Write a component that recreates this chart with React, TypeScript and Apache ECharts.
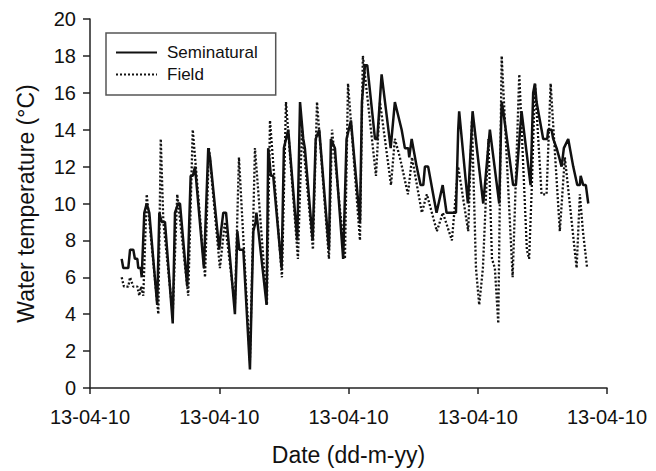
import React, { useEffect, useRef } from "react";
import * as echarts from "echarts";

// x in days from the first axis tick, y in °C
const xTickLabels = ["13-04-10", "13-04-10", "13-04-10", "13-04-10", "13-04-10"];

const seminaturalDays = [
  1.96, 2.06, 2.37, 2.48, 2.68, 2.78, 2.93, 2.99, 3.14, 3.2, 3.36, 3.51, 3.67, 4.16, 4.29, 4.44, 4.64,
  5.12, 5.26, 5.46, 5.57, 6.02, 6.23, 6.37, 6.5, 7.05, 7.32, 7.43, 8.0, 8.11, 8.25, 8.42, 8.97, 9.12,
  9.24, 9.49, 9.9, 10.11, 10.25, 10.3, 10.93, 11.03, 11.2, 11.34, 11.86, 12.0, 12.27, 12.83, 13.0,
  13.2, 13.3, 13.78, 13.97, 14.19, 14.79, 14.91, 15.16, 15.67, 15.88, 16.15, 16.71, 16.83, 17.02,
  17.16, 17.64, 17.78, 18.05, 18.61, 18.87, 19.29, 19.49, 19.7, 19.76, 19.91, 20.22, 20.46, 20.63,
  20.73, 20.93, 21.24, 21.45, 21.83, 22.07, 22.65, 22.79, 22.85, 23.39, 23.68, 24.34, 24.75, 25.33,
  25.48, 25.58, 26.19, 26.36, 26.71, 27.27, 27.43, 27.54, 27.64, 27.95, 28.05, 28.3, 28.36, 28.57,
  28.67, 28.88, 29.04, 29.19, 29.33, 29.6, 29.91, 30.16, 30.32, 30.37, 30.53, 30.69, 30.84,
];
const seminaturalTemp = [
  7, 6.5, 6.5, 7.5, 7.5, 7, 7, 6.5, 6.5, 6, 9.5, 10, 9.5, 4.5, 9.5, 9, 9,
  3.5, 9.5, 10, 10, 5.5, 11.5, 11.5, 12, 6.5, 13, 12.5, 7.5, 8.5, 9.5, 9.5, 4, 8.5,
  7.5, 7.5, 1, 8.5, 9, 9.5, 4.5, 13, 11.5, 11.5, 6.5, 13, 14, 8, 15.5,
  13.5, 13, 8, 13.5, 14, 7.5, 13.5, 13, 7, 13.5, 14.5, 9, 15.5, 17.5,
  17.5, 13.5, 13.5, 17, 13, 15.5, 14, 13, 13, 12.5, 13.5, 12, 11, 11,
  12, 12, 10.5, 9.5, 11, 9.5, 9.5, 14, 15, 10, 15, 10, 14, 10,
  15.5, 15, 11, 11, 15, 11, 16, 16.5, 15.5, 14, 13.5, 13.5, 14, 14,
  13.5, 13, 12.5, 12, 13, 13.5, 12, 11, 11, 11.5, 11, 11, 10,
];

const fieldDays = [
  1.96, 2.1, 2.37, 2.48, 2.68, 2.93, 3.05, 3.16, 3.3, 3.51, 4.23, 4.38, 4.54, 5.12, 5.4, 6.08, 6.36,
  7.12, 7.36, 8.04, 8.35, 8.97, 9.22, 9.9, 10.21, 10.95, 11.14, 11.88, 12.13, 12.87, 13.12, 13.8,
  14.05, 14.79, 14.98, 15.78, 15.97, 16.71, 16.89, 17.7, 17.95, 18.63, 18.87, 19.18, 19.68, 19.93,
  20.54, 20.85, 21.47, 21.84, 22.4, 22.79, 23.41, 23.64, 23.89, 24.09, 24.32, 24.66, 24.88, 25.06,
  25.27, 25.48, 26.16, 26.57, 27.04, 27.18, 27.35, 27.54, 27.95, 28.26, 28.51, 29.08, 29.39, 30.12,
  30.32, 30.51, 30.77,
];
const fieldTemp = [
  6, 5.5, 5.5, 6, 5.5, 5.5, 5, 5.5, 5, 10.5, 4, 13.5, 9, 4, 10.5, 5, 14,
  6, 13, 6.5, 9, 4.5, 12.5, 1.5, 13, 4.5, 14.5, 6, 15.5, 7, 14, 7.5,
  15.5, 7, 14, 7, 16.5, 8, 18, 11.5, 15.5, 11, 13.5, 12.5, 10.5, 12.5,
  9.5, 10.5, 8.5, 9.5, 8, 12, 8.5, 14.5, 6.5, 4.5, 6.5, 13.5, 7, 6.5,
  3.5, 18, 6, 17, 7.5, 7, 11, 16.5, 10.5, 10.5, 16.5, 8.5, 12.5, 6.5,
  10.5, 8.5, 6.5,
];

const FONT = "'Liberation Sans', Arial, sans-serif";

export default function App() {
  const ref = useRef<HTMLDivElement>(null);
  useEffect(() => {
    if (!ref.current) return;
    const chart = echarts.init(ref.current, undefined, { renderer: "svg" });
    const semi = seminaturalDays.map((d, i) => [d, seminaturalTemp[i]]);
    const field = fieldDays.map((d, i) => [d, fieldTemp[i]]);
    chart.setOption({
      animation: false,
      backgroundColor: "#fff",
      grid: { left: 90, right: 49, top: 19, bottom: 82 },
      legend: {
        orient: "vertical",
        left: 106,
        top: 33,
        data: ["Seminatural", "Field"],
        padding: [11, 18, 12, 9],
        itemGap: 5,
        itemWidth: 41,
        itemHeight: 14,
        borderColor: "#555",
        borderWidth: 1.5,
        backgroundColor: "#fff",
        itemStyle: { opacity: 0 },
        textStyle: { fontSize: 17, fontFamily: FONT, color: "#111", padding: [0, 0, 0, 5] },
      },
      xAxis: {
        type: "value",
        min: 0,
        max: 32,
        interval: 8,
        name: "Date (dd-m-yy)",
        nameLocation: "middle",
        nameGap: 55,
        nameTextStyle: { fontSize: 23, fontFamily: FONT, color: "#111" },
        axisLine: { show: true, lineStyle: { color: "#222", width: 1.5 } },
        axisTick: { show: true, length: 6, lineStyle: { color: "#222", width: 1.5 } },
        axisLabel: {
          fontSize: 20,
          fontFamily: FONT,
          color: "#111",
          margin: 19,
          formatter: (v: number) => xTickLabels[Math.round(v / 8)] ?? "",
        },
        splitLine: { show: false },
      },
      yAxis: {
        type: "value",
        min: 0,
        max: 20,
        interval: 2,
        name: "Water temperature (°C)",
        nameLocation: "middle",
        nameGap: 53,
        nameTextStyle: { fontSize: 23, fontFamily: FONT, color: "#111" },
        axisLine: { show: true, lineStyle: { color: "#222", width: 1.5 } },
        axisTick: { show: true, length: 7, lineStyle: { color: "#222", width: 1.5 } },
        axisLabel: { fontSize: 20, fontFamily: FONT, color: "#111", margin: 14 },
        splitLine: { show: false },
      },
      series: [
        {
          name: "Field",
          type: "line",
          data: field,
          symbol: "none",
          lineStyle: { color: "#111", width: 2.3, type: [2, 2] },
          itemStyle: { color: "#111" },
          z: 2,
        },
        {
          name: "Seminatural",
          type: "line",
          data: semi,
          symbol: "none",
          lineStyle: { color: "#111", width: 2.5 },
          itemStyle: { color: "#111" },
          z: 3,
        },
      ],
    });
    return () => chart.dispose();
  }, []);
  return (
    <div
      ref={ref}
      style={{ position: "fixed", left: 0, top: 0, width: 656, height: 471 }}
    />
  );
}
